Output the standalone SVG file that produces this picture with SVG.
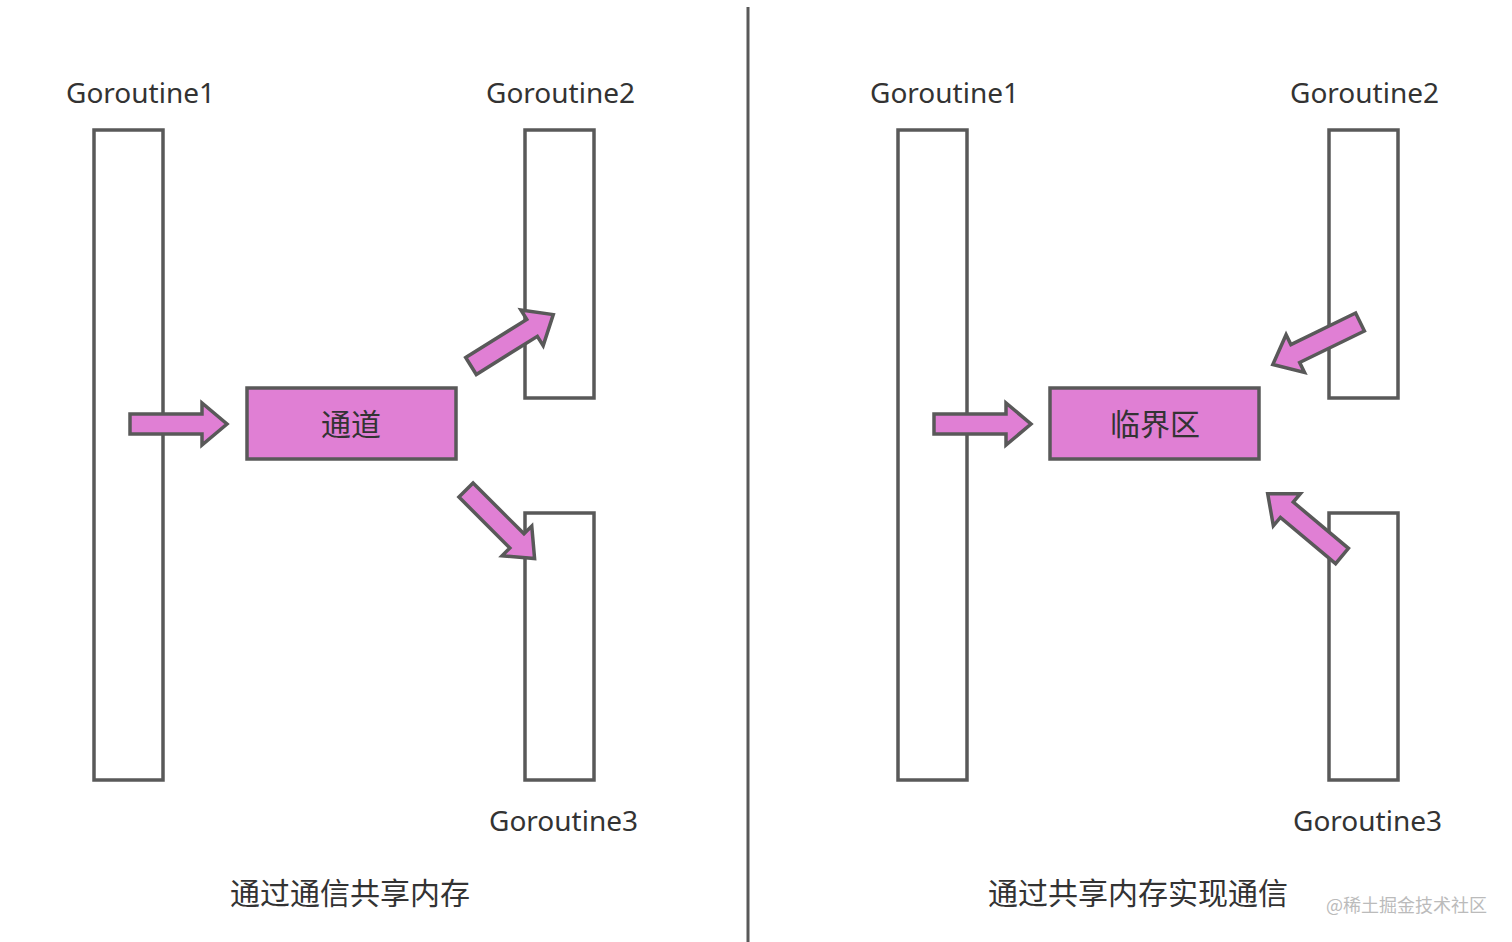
<svg xmlns="http://www.w3.org/2000/svg" xmlns:xlink="http://www.w3.org/1999/xlink" width="1512" height="942" viewBox="0 0 1512 942">
<style>
.bar{fill:#fff;stroke:#595959;stroke-width:3.5}
.box{fill:#e07fd4;stroke:#595959;stroke-width:3.5}
.lbl{font-family:"Noto Sans","Noto Sans CJK SC",sans-serif;font-size:28px;fill:#333}
.cap{font-family:"Noto Sans CJK SC","Noto Sans",sans-serif;font-size:30px;fill:#333;text-anchor:middle}
.arr{fill:#e07fd4;stroke:#595959;stroke-width:3.5;stroke-linejoin:miter}
</style>
<defs>
<path id="ar" d="M0,-10 L72,-10 L72,-21 L97,0 L72,21 L72,10 L0,10 Z"/>
</defs>
<rect width="1512" height="942" fill="#fff"/>
<line x1="748" y1="7" x2="748" y2="942" stroke="#595959" stroke-width="3"/>
<g id="left-g1"><rect class="bar" x="94" y="130" width="69" height="650"/><text class="lbl" x="66" y="103">Goroutine1</text></g>
<g id="left-g2"><rect class="bar" x="525" y="130" width="69" height="268"/><text class="lbl" x="486" y="103">Goroutine2</text></g>
<g id="left-g3"><rect class="bar" x="525" y="513" width="69" height="267"/><text class="lbl" x="489" y="831">Goroutine3</text></g>
<g id="left-channel"><rect class="box" x="247" y="388" width="209" height="71"/><text class="cap" x="351" y="435">通道</text></g>
<g id="right-g1"><rect class="bar" x="898" y="130" width="69" height="650"/><text class="lbl" x="870" y="103">Goroutine1</text></g>
<g id="right-g2"><rect class="bar" x="1329" y="130" width="69" height="268"/><text class="lbl" x="1290" y="103">Goroutine2</text></g>
<g id="right-g3"><rect class="bar" x="1329" y="513" width="69" height="267"/><text class="lbl" x="1293" y="831">Goroutine3</text></g>
<g id="right-critical"><rect class="box" x="1050" y="388" width="209" height="71"/><text class="cap" x="1155" y="435">临界区</text></g>
<g id="connectors">
<use xlink:href="#ar" class="arr" transform="translate(130,424)"/>
<use xlink:href="#ar" class="arr" transform="translate(471,366) rotate(-32)"/>
<use xlink:href="#ar" class="arr" transform="translate(466,490) rotate(45)"/>
<use xlink:href="#ar" class="arr" transform="translate(934,424)"/>
<use xlink:href="#ar" class="arr" transform="translate(1360,322) rotate(154)"/>
<use xlink:href="#ar" class="arr" transform="translate(1342,556) rotate(-140)"/>
</g>
<text class="cap" x="350" y="904">通过通信共享内存</text>
<text class="cap" x="1138" y="904">通过共享内存实现通信</text>
<text x="1326" y="912" font-family="Noto Sans CJK SC,sans-serif" font-size="18" fill="#bbb">@稀土掘金技术社区</text>
</svg>
